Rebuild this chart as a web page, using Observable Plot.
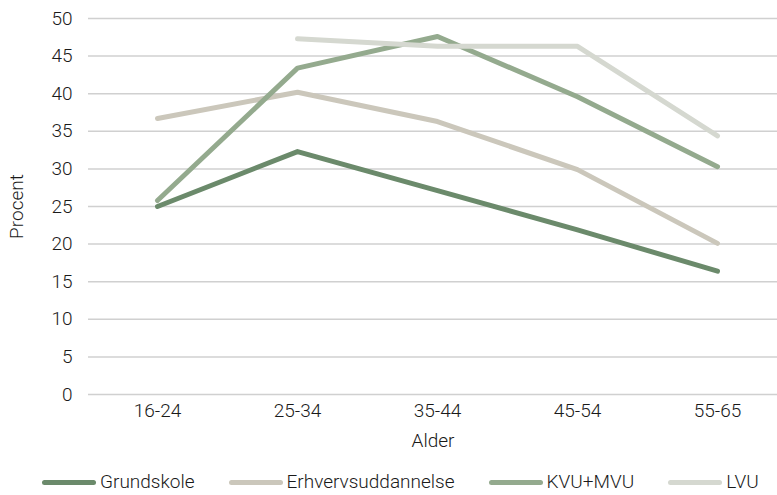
<!DOCTYPE html>
<html>
<head>
<meta charset="utf-8">
<script src="https://cdn.jsdelivr.net/npm/d3@7"></script>
<script src="https://cdn.jsdelivr.net/npm/@observablehq/plot@0.6"></script>
<style>
  body { margin: 0; background: #fff; font-family: Roboto, sans-serif; }
  #chart { width: 777px; height: 495px; position: relative; overflow: hidden; }
  .legend { position: absolute; left: 0; top: 471px; display: flex; align-items: center; height: 22px; line-height: 22px; padding-left: 42px; font-size: 19px; font-weight: 300; color: #1a1a1a; }
  .legend .item { display: flex; align-items: center; margin-right: 34px; }
  .legend .sw { width: 54px; height: 5px; border-radius: 3px; margin-right: 4px; }
</style>
</head>
<body>
<div id="chart"></div>
<script>
const ages = ["16-24", "25-34", "35-44", "45-54", "55-65"];
const seriesNames = ["Grundskole", "Erhvervsuddannelse", "KVU+MVU", "LVU"];
const colors = ["#6b8a6b", "#cbc7bb", "#94aa8e", "#d5d8d0"];
const grundskole = [25.0, 32.3, 27.1, 21.9, 16.4];
const erhverv = [36.7, 40.2, 36.3, 29.9, 20.1];
const kvuMvu = [25.8, 43.4, 47.6, 39.6, 30.3];
const lvu = [null, 47.3, 46.3, 46.3, 34.4];
const yTicks = [0, 5, 10, 15, 20, 25, 30, 35, 40, 45, 50];

const values = [grundskole, erhverv, kvuMvu, lvu];
const data = [];
seriesNames.forEach((s, i) => {
  ages.forEach((a, j) => {
    if (values[i][j] != null) data.push({series: s, age: a, value: values[i][j]});
  });
});

const plot = Plot.plot({
  width: 777,
  height: 460,
  marginLeft: 88,
  marginRight: 0,
  marginTop: 18,
  marginBottom: 66,
  style: { fontFamily: "Roboto, sans-serif", fontSize: "19px", fontWeight: 300, color: "#1a1a1a" },
  x: { type: "point", domain: ages, range: [157, 717], padding: 0, label: "Alder" },
  y: { domain: [0, 50], ticks: yTicks, label: "Procent" },
  color: { domain: seriesNames, range: colors },
  marks: [
    Plot.ruleY(yTicks, { stroke: "#d0d0d0", strokeWidth: 1.5 }),
    Plot.axisY({ ticks: yTicks, tickSize: 0, tickPadding: 16, label: "Procent", labelAnchor: "center", labelArrow: "none", labelOffset: 79, fontSize: 19 }),
    Plot.axisX({ tickSize: 0, tickPadding: 9, label: "Alder", labelAnchor: "center", labelArrow: "none", labelOffset: 52, fontSize: 19 }),
    Plot.line(data, { x: "age", y: "value", z: "series", stroke: "series", strokeWidth: 5, strokeLinecap: "round", strokeLinejoin: "round" })
  ]
});
document.getElementById("chart").appendChild(plot);

const legend = document.createElement("div");
legend.className = "legend";
seriesNames.forEach((s, i) => {
  const it = document.createElement("div");
  it.className = "item";
  const sw = document.createElement("span");
  sw.className = "sw";
  sw.style.background = colors[i];
  const t = document.createElement("span");
  t.textContent = s;
  it.appendChild(sw); it.appendChild(t);
  legend.appendChild(it);
});
document.getElementById("chart").appendChild(legend);
</script>
</body>
</html>
